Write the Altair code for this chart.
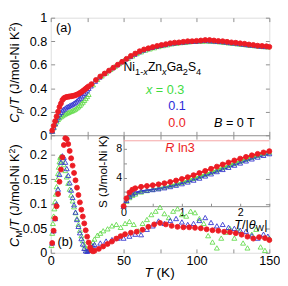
import altair as alt
import pandas as pd

# ---------------- data ----------------
SERIES = ["0.3", "0.1", "0.0"]          # x in Ni1-xZnxGa2S4 (draw order)
COLORS = ["#62da4a", "#3434cf", "#ec1c24"]
FILLS = ["transparent", "transparent", "#ec1c24"]
SHAPES = ["triangle-up", "triangle-up", "circle"]

# (a) Cp/T (J/mol-Ni K^2) vs T (K)
a_T_00 = list(range(1, 27)) + [28, 31, 34, 37, 40, 43, 46, 49, 52, 55, 58, 61, 64, 67, 70, 73, 76, 79, 82, 85, 88, 91, 94, 97, 100,
                               103, 106, 109, 112, 115, 118, 121, 124, 127, 130, 133, 136, 139, 142, 145, 148, 150]
a_C_00 = [.04, .08, .12, .16, .20, .24, .27, .30, .315, .322, .326, .328, .33, .332, .334, .337, .341, .346, .352, .359,
          .367, .376, .386, .396, .406, .416,
          .435, .47, .50, .525, .55, .575, .60, .625, .65, .675, .695, .715, .73, .74, .75, .76, .768, .775, .783, .788,
          .79, .795, .80, .80, .803, .806, .81, .81, .806, .802, .80, .795, .79, .787, .782, .778, .772, .768, .762, .76,
          .757, .752]
a_T_01 = list(range(1, 27)) + [27.5, 30.5, 33.5, 36.5, 39.5, 42.5, 45.5, 48.5, 51.5, 54.5, 57.5, 60.5, 63.5, 66.5, 69.5, 72.5,
                               75.5, 78.5, 81.5, 84.5, 87.5, 90.5, 93.5, 96.5, 99.5, 102.5, 105.5, 108.5, 111.5, 114.5,
                               117.5, 120.5, 123.5, 126.5, 129.5, 132.5, 135.5, 138.5, 141.5, 144.5, 147.5]
a_C_01 = [.035, .07, .10, .13, .155, .18, .195, .21, .222, .232, .24, .246, .252, .258, .265, .273, .282, .292, .303, .315,
          .328, .342, .356, .37, .385, .40,
          .42, .46, .495, .525, .55, .575, .60, .625, .65, .67, .69, .71, .725, .738, .748, .757, .765, .772, .78, .785,
          .79, .793, .797, .80, .80, .805, .808, .805, .803, .80, .797, .793, .788, .785, .78, .775, .77, .767, .762, .758,
          .755]
a_T_03 = list(range(1, 27)) + [29, 32, 35, 38, 41, 44, 47, 50, 53, 56, 59, 62, 65, 68, 71, 74, 77, 80, 83, 86, 89, 92, 95, 98,
                               101, 104, 107, 110, 113, 116, 119, 122, 125, 128, 131, 134, 137, 140, 143, 146, 149]
a_C_03 = [.035, .065, .095, .115, .135, .148, .158, .167, .175, .182, .188, .194, .20, .205, .21, .216, .224, .233, .243,
          .255, .268, .282, .297, .313, .33, .348,
          .43, .475, .505, .53, .56, .585, .61, .635, .655, .675, .695, .71, .725, .735, .745, .755, .763, .77, .778,
          .783, .788, .79, .795, .80, .80, .80, .802, .80, .798, .795, .79, .786, .782, .778, .774, .77, .765, .762,
          .758, .755, .752]

# (b) C_M/T (J/mol-Ni K^2) vs T (K)
b_T_00 = list(range(1, 31)) + [33, 36, 39, 42, 45, 48, 51, 55, 59, 63, 67, 71, 75, 79, 83, 87, 91, 95, 99, 103, 107, 111,
                               115, 119, 123, 127, 131, 135, 139, 143, 147, 150]
b_C_00 = [.02, .045, .07, .095, .12, .145, .17, .195, .22, .234, .232, .222, .208, .193, .178, .163, .148, .133, .118, .103,
          .088, .074, .06, .046, .033, .021, .011, .005, .003, .004,
          .008, .013, .018, .023, .029, .034, .038, .041, .043, .047, .053, .058, .061, .058, .055, .053, .052, .052, .051,
          .05, .048, .046, .045, .043, .042, .04, .037, .033, .029, .032, .03, .026]
b_T_01 = list(range(1, 31)) + [34, 38, 42, 46, 50, 54, 58, 62, 66, 70, 74, 78, 82, 86, 90, 94, 98, 102, 106, 110, 114, 118,
                               122, 126, 130, 134, 138, 142, 146, 149]
b_C_01 = [.02, .045, .07, .10, .13, .16, .185, .198, .195, .185, .172, .158, .143, .128, .113, .098, .083, .068, .054, .041,
          .029, .018, .009, .004, .003, .005, .008, .011, .014, .017,
          .02, .024, .027, .03, .03, .034, .038, .037, .048, .055, .065, .06, .066, .07, .063, .058, .06, .066, .072, .062,
          .055, .058, .052, .05, .046, .044, .035, .03, .038, .034]
b_T_03 = [0.5, 1, 1.5, 2, 2.5, 3, 3.5, 4, 4.5, 5, 5.5, 6, 6.5, 7, 7.5, 8] + list(range(9, 31)) + \
         [32, 34, 36, 39, 42, 45, 48, 51, 54, 57, 60, 63, 66, 69, 72, 75, 78, 81, 84, 87, 90, 93, 96, 99, 102, 105, 108,
          111, 114, 117, 120, 123, 126, 129, 132, 135, 138, 141, 144, 147, 150]
b_C_03 = [.015, .04, .06, .075, .09, .105, .12, .135, .15, .162, .175, .186, .195, .197, .195, .19,
          .18, .168, .155, .142, .13, .118, .106, .094, .082, .07, .058, .046, .035, .025, .016, .009, .005, .006, .01,
          .016, .022, .028,
          .036, .04, .045, .049, .055, .058, .052, .06, .064, .058, .045, .06, .068, .078, .085, .093, .08, .072, .085,
          .09, .078, .075, .085, .082, .07, .06, .035, .022, .01, .03, .042, .05, .03, .045, .02, .01, .038, .048, .012,
          .005, .03]

# inset: S (J/mol-Ni K) vs T/|theta_W|
i_t = [0, 0.05, 0.1, 0.15, 0.2, 0.3, 0.4, 0.5, 0.6, 0.7, 0.8, 0.9, 1.0, 1.1, 1.2, 1.3, 1.4, 1.5, 1.6, 1.7, 1.8, 1.9, 2.0,
       2.1, 2.2, 2.3, 2.4, 2.5]
i_S_00 = [0, 1.1, 1.9, 2.3, 2.5, 2.7, 2.82, 2.92, 3.05, 3.2, 3.38, 3.58, 3.8, 4.05, 4.33, 4.62, 4.92, 5.22, 5.52, 5.82,
          6.1, 6.38, 6.64, 6.88, 7.1, 7.3, 7.5, 7.68]
i_S_01 = [0, 0.8, 1.35, 1.7, 1.9, 2.1, 2.22, 2.32, 2.43, 2.57, 2.74, 2.93, 3.14, 3.38, 3.64, 3.92, 4.22, 4.52, 4.83, 5.13,
          5.43, 5.73, 6.03, 6.32, 6.6, 6.86, 7.1, 7.33]
i_S_03 = [0, 0.7, 1.2, 1.5, 1.7, 1.98, 2.18, 2.34, 2.5, 2.68, 2.88, 3.1, 3.34, 3.6, 3.88, 4.17, 4.47, 4.77, 5.08, 5.39,
          5.7, 6.01, 6.31, 6.6, 6.87, 7.12, 7.36, 7.56]
R_LN3 = 9.13

a_xticks = [0, 25, 50, 75, 100, 125, 150]
b_xlabels = [0, 50, 100, 150]
a_yticks = [0, 0.2, 0.4, 0.6, 0.8, 1]
b_yticks = [0, 0.05, 0.1, 0.15, 0.2]
i_xlabels = [0, 1, 2]
i_xticks = [0, 0.5, 1, 1.5, 2, 2.5]
i_ylabels = [4, 8]
i_yticks = [0, 2, 4, 6, 8]


def long(pairs):
    rows = []
    for s, xs, ys in pairs:
        for a, b in zip(xs, ys):
            rows.append({"s": s, "x": a, "y": b})
    return pd.DataFrame(rows)


df_a = long([("0.3", a_T_03, a_C_03), ("0.1", a_T_01, a_C_01), ("0.0", a_T_00, a_C_00)])
df_b = long([("0.3", b_T_03, b_C_03), ("0.1", b_T_01, b_C_01), ("0.0", b_T_00, b_C_00)])
df_i = long([("0.3", i_t, i_S_03), ("0.1", i_t, i_S_01), ("0.0", i_t, i_S_00)])
df_r = pd.DataFrame({"x": [0], "x2": [2.5], "y": [R_LN3]})

# ---------------- geometry ----------------
W, H, HM = 225, 242, 121
IX0, IX1, IY0, IY1 = 75, 225, 194, 121
GRAY = "#8c8c8c"
FONT = "Liberation Sans"

XS = alt.Scale(domain=[0, 150], range=[0, W], nice=False, zero=False)
YA = alt.Scale(domain=[0, 1], range=[HM, 0], nice=False, zero=False)
YB = alt.Scale(domain=[0, 0.24], range=[H, HM], nice=False, zero=False)
XI = alt.Scale(domain=[0, 2.5], range=[IX0, IX1], nice=False, zero=False)
YI = alt.Scale(domain=[0, 9.9], range=[IY0, IY1], nice=False, zero=False)

SH = alt.Shape("s:N", scale=alt.Scale(domain=SERIES, range=SHAPES), legend=None)
ST = alt.Stroke("s:N", scale=alt.Scale(domain=SERIES, range=COLORS), legend=None)
FI = alt.Fill("s:N", scale=alt.Scale(domain=SERIES, range=FILLS), legend=None)


def tick_axis(orient, offset, values, size=4):
    return alt.Axis(orient=orient, offset=offset, values=values, labels=False, domain=False, ticks=True,
                    tickSize=size, tickColor=GRAY, grid=False, title=None)


def pts(df, xs, ys, xaxis, yaxis, sizes):
    return alt.Chart(df).mark_point(strokeWidth=0.9, opacity=1).encode(
        x=alt.X("x:Q", scale=xs, axis=xaxis),
        y=alt.Y("y:Q", scale=ys, axis=yaxis),
        shape=SH, stroke=ST, fill=FI,
        size=alt.Size("s:N", scale=alt.Scale(domain=SERIES, range=sizes), legend=None),
    )


def ghost(df, xs, ys, xaxis, yaxis):
    return alt.Chart(df).mark_point(opacity=0).encode(
        x=alt.X("x:Q", scale=xs, axis=xaxis),
        y=alt.Y("y:Q", scale=ys, axis=yaxis),
    )


layers = []
# ---- panel (a)
layers.append(pts(df_a, XS, YA,
                  tick_axis("bottom", -H, a_xticks),
                  alt.Axis(orient="left", values=a_yticks, format="~g", ticks=False, domain=False, labelPadding=4,
                           labelFontSize=13, labelFont=FONT, labelColor="black", grid=False, title=None),
                  [26, 26, 18]))
layers.append(ghost(df_a, XS, YA, alt.Axis(orient="top", offset=-HM, values=a_xticks, labels=False, domain=True,
                                           domainColor=GRAY, ticks=True, tickSize=4, tickColor=GRAY, grid=False,
                                           title=None),
                    tick_axis("right", -W, a_yticks)))
layers.append(ghost(df_a, XS, YA, None, tick_axis("left", -W, a_yticks)))
# ---- panel (b)
layers.append(pts(df_b, XS, YB,
                  alt.Axis(orient="bottom", values=b_xlabels, format="d", ticks=False, domain=False, labelPadding=2,
                           labelFontSize=13, labelFont=FONT, labelColor="black", labelFlush=False, grid=False,
                           title=None),
                  alt.Axis(orient="left", values=b_yticks, format="~g", ticks=False, domain=False, labelPadding=4,
                           labelFontSize=13, labelFont=FONT, labelColor="black", grid=False, title=None),
                  [30, 30, 24]))
layers.append(ghost(df_b, XS, YB, tick_axis("top", -H, a_xticks), tick_axis("right", -W, b_yticks)))
layers.append(ghost(df_b, XS, YB, tick_axis("bottom", -HM, a_xticks), tick_axis("left", -W, b_yticks)))
# ---- inset
layers.append(alt.Chart(df_r).mark_rule(color="#f5a3a3", strokeWidth=1).encode(
    x=alt.X("x:Q", scale=XI, axis=None), x2="x2:Q", y=alt.Y("y:Q", scale=YI, axis=None)))
layers.append(alt.Chart(df_i).mark_line(strokeWidth=1.8).encode(
    x=alt.X("x:Q", scale=XI,
            axis=alt.Axis(orient="bottom", offset=-(H - IY0), values=i_xlabels, format="d", ticks=False,
                          domain=True, domainColor=GRAY, labelPadding=1, labelFontSize=11, labelFont=FONT,
                          labelColor="black", labelFlush=False, grid=False, title=None)),
    y=alt.Y("y:Q", scale=YI,
            axis=alt.Axis(orient="left", offset=-IX0, values=i_ylabels, format="d", ticks=False, domain=True,
                          domainColor=GRAY, labelPadding=2, labelFontSize=11, labelFont=FONT, labelColor="black",
                          grid=False, title=None)),
    stroke=ST, detail="s:N"))
layers.append(pts(df_i, XI, YI, tick_axis("top", -IY0, i_xticks, 3), tick_axis("right", IX0 - W, i_yticks, 3),
                  [7, 7, 7]))

# ---------------- text ----------------
AW = {' ': 278, '(': 333, ')': 333, '-': 333, '/': 278, '=': 584, '|': 260, '.': 278, 'B': 667, 'C': 722, 'G': 778,
      'J': 500, 'K': 667, 'M': 833, 'N': 722, 'R': 722, 'S': 667, 'T': 611, 'W': 944, 'Z': 611, 'a': 556, 'i': 222,
      'l': 222, 'm': 833, 'n': 556, 'o': 556, 'p': 556, 'x': 500, 'θ': 556}
ONE = pd.DataFrame({"k": [0]})


def tw(s, size):
    return sum(AW.get(c, 556) for c in s) * size / 1000.0


def run(pieces, x0, y0, angle=0):
    out = []
    pos = 0.0
    for s, size, shift, italic, color in pieces:
        lead = len(s) - len(s.lstrip(" "))
        pos += tw(" " * lead, size)
        s = s.lstrip(" ")
        if angle == 0:
            x, y = x0 + pos, y0 + shift
        else:
            x, y = x0 + shift, y0 - pos
        out.append(alt.Chart(ONE).mark_text(text=s, fontSize=size, font=FONT,
                                            fontStyle="italic" if italic else "normal", color=color,
                                            align="left", baseline="alphabetic", angle=angle)
                   .encode(x=alt.value(x), y=alt.value(y)))
        pos += tw(s, size)
    return out


K = "black"
RT, BT, GT = "#ec1c24", "#2b2bd9", "#3fdc3f"
layers += run([("C", 13, 0, True, K), ("p", 9, 3, True, K), ("/", 13, 0, False, K), ("T", 13, 0, True, K),
               (" (J/mol-Ni K", 13, 0, False, K), ("2", 9, -4, False, K), (")", 13, 0, False, K)], -33, 108, 270)
layers += run([("C", 13, 0, True, K), ("M", 9, 3, False, K), ("/", 13, 0, False, K), ("T", 13, 0, True, K),
               (" (J/mol-Ni K", 13, 0, False, K), ("2", 9, -4, False, K), (")", 13, 0, False, K)], -33, 236, 270)
layers += run([("S (J/mol-Ni K)", 12, 0, False, K)], 58, 196, 270)
layers += run([("T", 14, 0, True, K), (" (K)", 14, 0, False, K)], 96.5, 267)
layers += run([("(a)", 13, 0, False, K)], 5.5, 15)
layers += run([("(b)", 13, 0, False, K)], 7, 235)
layers += run([("Ni", 12.5, 0, False, K), ("1-", 9.5, 4, False, K), ("x", 9.5, 4, True, K), ("Zn", 12.5, 0, False, K),
               ("x", 9.5, 4, True, K), ("Ga", 12.5, 0, False, K), ("2", 9.5, 4, False, K), ("S", 12.5, 0, False, K),
               ("4", 9.5, 4, False, K)], 75, 55)
layers += run([("x", 13, 0, True, GT), (" = 0.3", 13, 0, False, GT)], 98, 78.5)
layers += run([("0.1", 13, 0, False, BT)], 121, 95)
layers += run([("0.0", 13, 0, False, RT)], 121, 112.5)
layers += run([("B", 13, 0, True, K), (" = 0 T", 13, 0, False, K)], 168, 112.5)
layers += run([("R", 13, 0, True, RT), (" ln3", 13, 0, False, RT)], 118, 138.5)
layers += run([("T", 13, 0, True, K), ("/|", 13, 0, False, K), ("θ", 13, 0, True, K), ("W", 9, 3, False, K),
               ("|", 13, 0, False, K)], 189, 217)

chart = alt.layer(*layers).resolve_scale(x="independent", y="independent").properties(
    width=W, height=H, autosize=alt.AutoSizeParams(type="none"),
    padding={"left": 44, "top": 6, "right": 11, "bottom": 24},
).configure_view(stroke=GRAY, strokeWidth=1).configure(background="white")

chart.save("out.html", embed_options={"renderer": "svg", "actions": False})
